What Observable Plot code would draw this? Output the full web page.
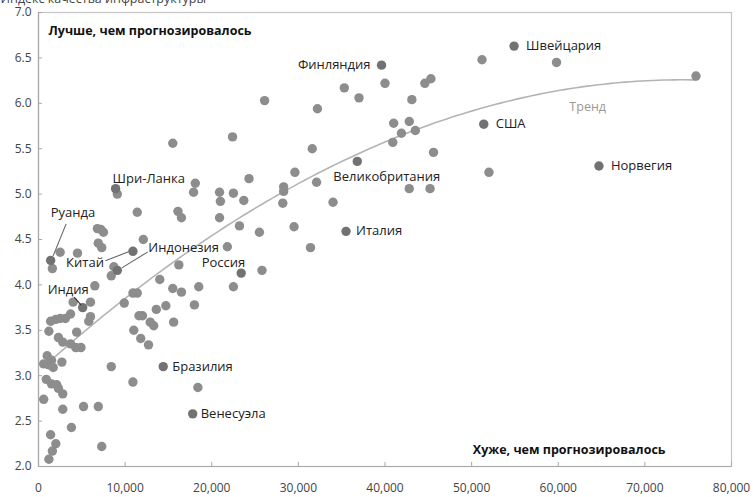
<!DOCTYPE html>
<html><head><meta charset="utf-8">
<script src="https://cdn.jsdelivr.net/npm/d3@7"></script>
<script src="https://cdn.jsdelivr.net/npm/@observablehq/plot@0.6"></script>
<style>
body{margin:0;background:#fff;font-family:"Open Sans",sans-serif;}
#chart svg{display:block;}
</style>
</head><body><div id="chart"></div>
<script>
// ВВП на душу населения (долл.) и индекс качества инфраструктуры — страны без подписи
const gdp = [51200,59800,75900,52000,40000,35300,37000,44600,45300,43100,
 26100,32200,41000,42800,41900,43500,40900,45600,31600,29600,
 28300,28300,32100,42800,45200,28200,34000,29500,31400,22400,
 24300,22500,23700,23200,25500,25800,22500,21800,15500,18100,
 17900,20900,21000,16100,16500,20900,12100,16200,14000,15500,
 16500,18500,18000,14700,13600,12000,12900,13300,15600,12700,
 18400,9900,10900,11400,11000,11600,11800,10900,8400,9100,
 11400,6800,7200,7500,6900,7300,2500,4500,1600,8700,
 8400,6500,6000,4000,3700,5800,6000,1400,2000,2500,
 3100,1200,4400,2300,2800,3700,4300,4900,1000,600,
 1200,1500,1700,2700,900,1500,2100,2300,2800,600,
 2800,5200,6900,3800,1400,2000,1600,1200,7300];
const infra = [6.48,6.45,6.30,5.24,6.22,6.17,6.06,6.22,6.27,6.04,
 6.03,5.94,5.78,5.80,5.67,5.70,5.57,5.46,5.50,5.24,
 5.08,5.03,5.13,5.06,5.06,4.90,4.91,4.64,4.41,5.63,
 5.17,5.01,4.93,4.65,4.58,4.16,3.98,4.42,5.56,5.12,
 5.02,5.02,4.92,4.81,4.74,4.74,4.50,4.22,4.06,3.96,
 3.92,3.98,3.78,3.77,3.73,3.66,3.59,3.55,3.59,3.34,
 2.87,3.80,3.91,3.91,3.50,3.66,3.41,2.93,3.10,5.00,
 4.80,4.62,4.61,4.58,4.46,4.41,4.36,4.35,4.18,4.20,
 4.10,3.99,3.81,3.81,3.68,3.60,3.65,3.60,3.62,3.63,
 3.63,3.49,3.48,3.42,3.37,3.35,3.31,3.31,3.22,3.13,
 3.12,3.17,3.09,3.15,2.96,2.91,2.90,2.86,2.80,2.74,
 2.63,2.66,2.66,2.43,2.35,2.25,2.17,2.08,2.22];

// Подписанные страны
const countryNames = ["Швейцария","Финляндия","США","Норвегия","Великобритания","Италия","Шри-Ланка","Руанда","Индонезия","Китай","Россия","Индия","Бразилия","Венесуэла"];
const countryGdp   = [54900,39600,51400,64700,36800,35500,8900,1400,9100,10900,23400,5100,14400,17800];
const countryInfra = [6.63,6.42,5.77,5.31,5.36,4.59,5.06,4.27,4.16,4.37,4.13,3.75,3.10,2.58];

const xTicks = [0,10000,20000,30000,40000,50000,60000,70000,80000];
const yTicks = [2.0,2.5,3.0,3.5,4.0,4.5,5.0,5.5,6.0,6.5,7.0];

const title = "Индекс качества инфраструктуры";
const betterText = "Лучше, чем прогнозировалось";
const worseText = "Хуже, чем прогнозировалось";
const trendText = "Тренд";
const trendLabelGdp = 63400;

// Оформление подписей (смещения в пикселях)
const labelStyle = {
  "Швейцария": {dx: 12, dy: 0, anchor: "start"},
  "Финляндия": {dx: -11, dy: 0, anchor: "end"},
  "США": {dx: 12, dy: 0, anchor: "start"},
  "Норвегия": {dx: 12, dy: 0, anchor: "start"},
  "Великобритания": {dx: -24, dy: 15, anchor: "start"},
  "Италия": {dx: 10, dy: 0, anchor: "start"},
  "Шри-Ланка": {dx: -3, dy: -10, anchor: "start"},
  "Руанда": {dx: 0, dy: -48, anchor: "start"},
  "Индонезия": {dx: 31, dy: -23, anchor: "start"},
  "Китай": {dx: -29, dy: 12, anchor: "end"},
  "Россия": {dx: 4, dy: -10, anchor: "end"},
  "Индия": {dx: -35, dy: -18, anchor: "start"},
  "Бразилия": {dx: 9, dy: 0, anchor: "start"},
  "Венесуэла": {dx: 8, dy: 0, anchor: "start"}
};
const leaderStyle = [
  {name: "Руанда", from: [16, -36], to: [3, -4], stroke: "#666"},
  {name: "Китай", from: [-27, 10], to: [-4, 1], stroke: "#666"},
  {name: "Индонезия", from: [31, -18], to: [5, -2], stroke: "#666"},
  {name: "Индия", from: [-8, -10], to: [-1, -2], stroke: "#333"}
];

const points = gdp.map((g, i) => ({x: g, y: infra[i]}));
const countries = countryNames.map((n, i) => ({name: n, x: countryGdp[i], y: countryInfra[i]}));
const all = points.concat(countries);

// Квадратичный тренд по методу наименьших квадратов
function quadFit(data) {
  const s = [0,0,0,0,0], t = [0,0,0];
  for (const d of data) {
    const x = d.x / 1000; let p = 1;
    for (let k = 0; k < 5; k++) { s[k] += p; if (k < 3) t[k] += p * d.y; p *= x; }
  }
  const A = [[s[0],s[1],s[2],t[0]],[s[1],s[2],s[3],t[1]],[s[2],s[3],s[4],t[2]]];
  for (let i = 0; i < 3; i++) {
    for (let j = i + 1; j < 3; j++) {
      const f = A[j][i] / A[i][i];
      for (let k = i; k < 4; k++) A[j][k] -= f * A[i][k];
    }
  }
  const c = [0,0,0];
  for (let i = 2; i >= 0; i--) {
    let v = A[i][3];
    for (let k = i + 1; k < 3; k++) v -= A[i][k] * c[k];
    c[i] = v / A[i][i];
  }
  return x => c[0] + c[1] * (x / 1000) + c[2] * (x / 1000) ** 2;
}
const trend = quadFit(all);
const [xMin, xMax] = d3.extent(all, d => d.x);
const trendLine = d3.range(0, 121).map(i => {
  const x = xMin + (xMax - xMin) * i / 120;
  return {x, y: trend(x)};
});

const fontFamily = '"Open Sans", sans-serif';

function leaders(index, scales) {
  const g = d3.create("svg:g");
  for (const L of leaderStyle) {
    const c = countries.find(d => d.name === L.name);
    const px = scales.x(c.x), py = scales.y(c.y);
    g.append("line")
      .attr("x1", px + L.from[0]).attr("y1", py + L.from[1])
      .attr("x2", px + L.to[0]).attr("y2", py + L.to[1])
      .attr("stroke", L.stroke).attr("stroke-width", 1.1);
  }
  return g.node();
}

const chart = Plot.plot({
  width: 753,
  height: 497,
  marginLeft: 38,
  marginRight: 22,
  marginTop: 12,
  marginBottom: 31,
  style: {fontFamily, background: "#fff"},
  x: {domain: [0, 80000], ticks: xTicks, tickFormat: d3.format(","), tickSize: 0, tickPadding: 17, label: null},
  y: {domain: [2, 7], ticks: yTicks, tickFormat: d3.format(".1f"), tickSize: 0, tickPadding: 7, label: null},
  marks: [
    Plot.frame({stroke: "#c4c4c4", strokeWidth: 1.2}),
    Plot.ruleX([0], {stroke: "#a8a8a8", strokeWidth: 1.2}),
    Plot.ruleY([2], {stroke: "#a8a8a8", strokeWidth: 1.2}),
    Plot.ruleX(xTicks, {x: d => d, y1: 2, y2: 2.045, stroke: "#a8a8a8"}),
    Plot.ruleY(yTicks, {y: d => d, x1: 0, x2: 460, stroke: "#a8a8a8"}),
    Plot.axisX({ticks: xTicks, tickFormat: d3.format(","), tickSize: 0, tickPadding: 17, fontSize: 12, fill: "#444", label: null}),
    Plot.axisY({ticks: yTicks, tickFormat: d3.format(".1f"), tickSize: 0, tickPadding: 7, fontSize: 12, fill: "#444", label: null}),
    Plot.line(trendLine, {x: "x", y: "y", stroke: "#b4b4b4", strokeWidth: 1.6}),
    Plot.dot(points, {x: "x", y: "y", r: 4.7, fill: "#8d8d8d"}),
    Plot.dot(countries, {x: "x", y: "y", r: 4.7, fill: "#727272"}),
    leaders,
    ...countryNames.map(n => Plot.text(countries.filter(d => d.name === n), {
      x: "x", y: "y", text: "name",
      dx: labelStyle[n].dx, dy: labelStyle[n].dy, textAnchor: labelStyle[n].anchor,
      fontSize: 13, fill: "#222"
    })),
    Plot.text([{x: trendLabelGdp, y: trend(trendLabelGdp), t: trendText}], {x: "x", y: "y", text: "t", dy: 21, fontSize: 12.5, fill: "#999"}),
    Plot.text([betterText], {frameAnchor: "top-left", dx: 10, dy: 18, textAnchor: "start", lineAnchor: "middle", fontSize: 12.5, fontWeight: "bold", fill: "#111"}),
    Plot.text([worseText], {frameAnchor: "bottom-right", dx: -66, dy: -17, textAnchor: "end", lineAnchor: "middle", fontSize: 12.5, fontWeight: "bold", fill: "#111"}),
    Plot.text([title], {frameAnchor: "top-left", dx: -38, dy: -10, textAnchor: "start", lineAnchor: "bottom", fontSize: 12.5, fill: "#444"})
  ]
});
document.getElementById("chart").appendChild(chart);
</script>
</body></html>
